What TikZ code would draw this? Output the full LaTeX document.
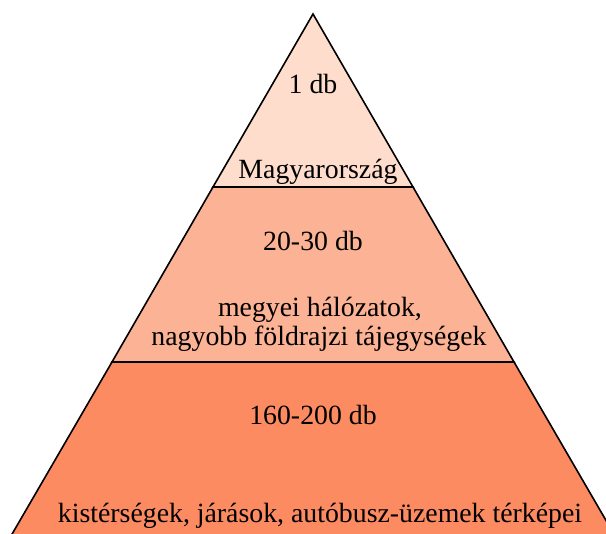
\documentclass[tikz,border=0pt]{standalone}
\usepackage{fontspec}
\setmainfont{Liberation Serif}
\definecolor{pyrtop}{HTML}{FEDDCD}
\definecolor{pyrmid}{HTML}{FCB294}
\definecolor{pyrbase}{HTML}{FC8B62}
\tikzset{%
  pyrlayer/.style={%
    draw=black,
    line width=0.8pt,
    line join=miter
  },
  pyrlabel/.style={%
    anchor=base,
    inner sep=0pt,
    font=\fontsize{13.9}{16}\selectfont
  }
}
\begin{document}
\begin{tikzpicture}[x=0.5pt,y=-0.5pt]
    \useasboundingbox (0,0) rectangle (606,534);
    \clip (0,0) rectangle (606,534);
    \coordinate (apex) at (313,14);
    \coordinate (topL) at (213,187);
    \coordinate (topR) at (413,187);
    \coordinate (midL) at (112,362);
    \coordinate (midR) at (514,362);
    \coordinate (baseL) at (-3,560);
    \coordinate (baseR) at (629,560);

    \path[pyrlayer,fill=pyrbase] (midL) -- (midR) -- (baseR) -- (baseL) -- cycle;
    \path[pyrlayer,fill=pyrmid] (topL) -- (topR) -- (midR) -- (midL) -- cycle;
    \path[pyrlayer,fill=pyrtop] (apex) -- (topR) -- (topL) -- cycle;

    \node[pyrlabel] (topcount) at (313,94) {1 db};
    \node[pyrlabel] (topname) at (318,179) {Magyarország};
    \node[pyrlabel] (midcount) at (313,251) {20-30 db};
    \node[pyrlabel] (midname1) at (320,317) {megyei hálózatok,};
    \node[pyrlabel] (midname2) at (319,346) {nagyobb földrajzi tájegységek};
    \node[pyrlabel] (basecount) at (313,425) {160-200 db};
    \node[pyrlabel] (basename) at (320,523) {kistérségek, járások, autóbusz-üzemek térképei};
  \end{tikzpicture}
\end{document}
